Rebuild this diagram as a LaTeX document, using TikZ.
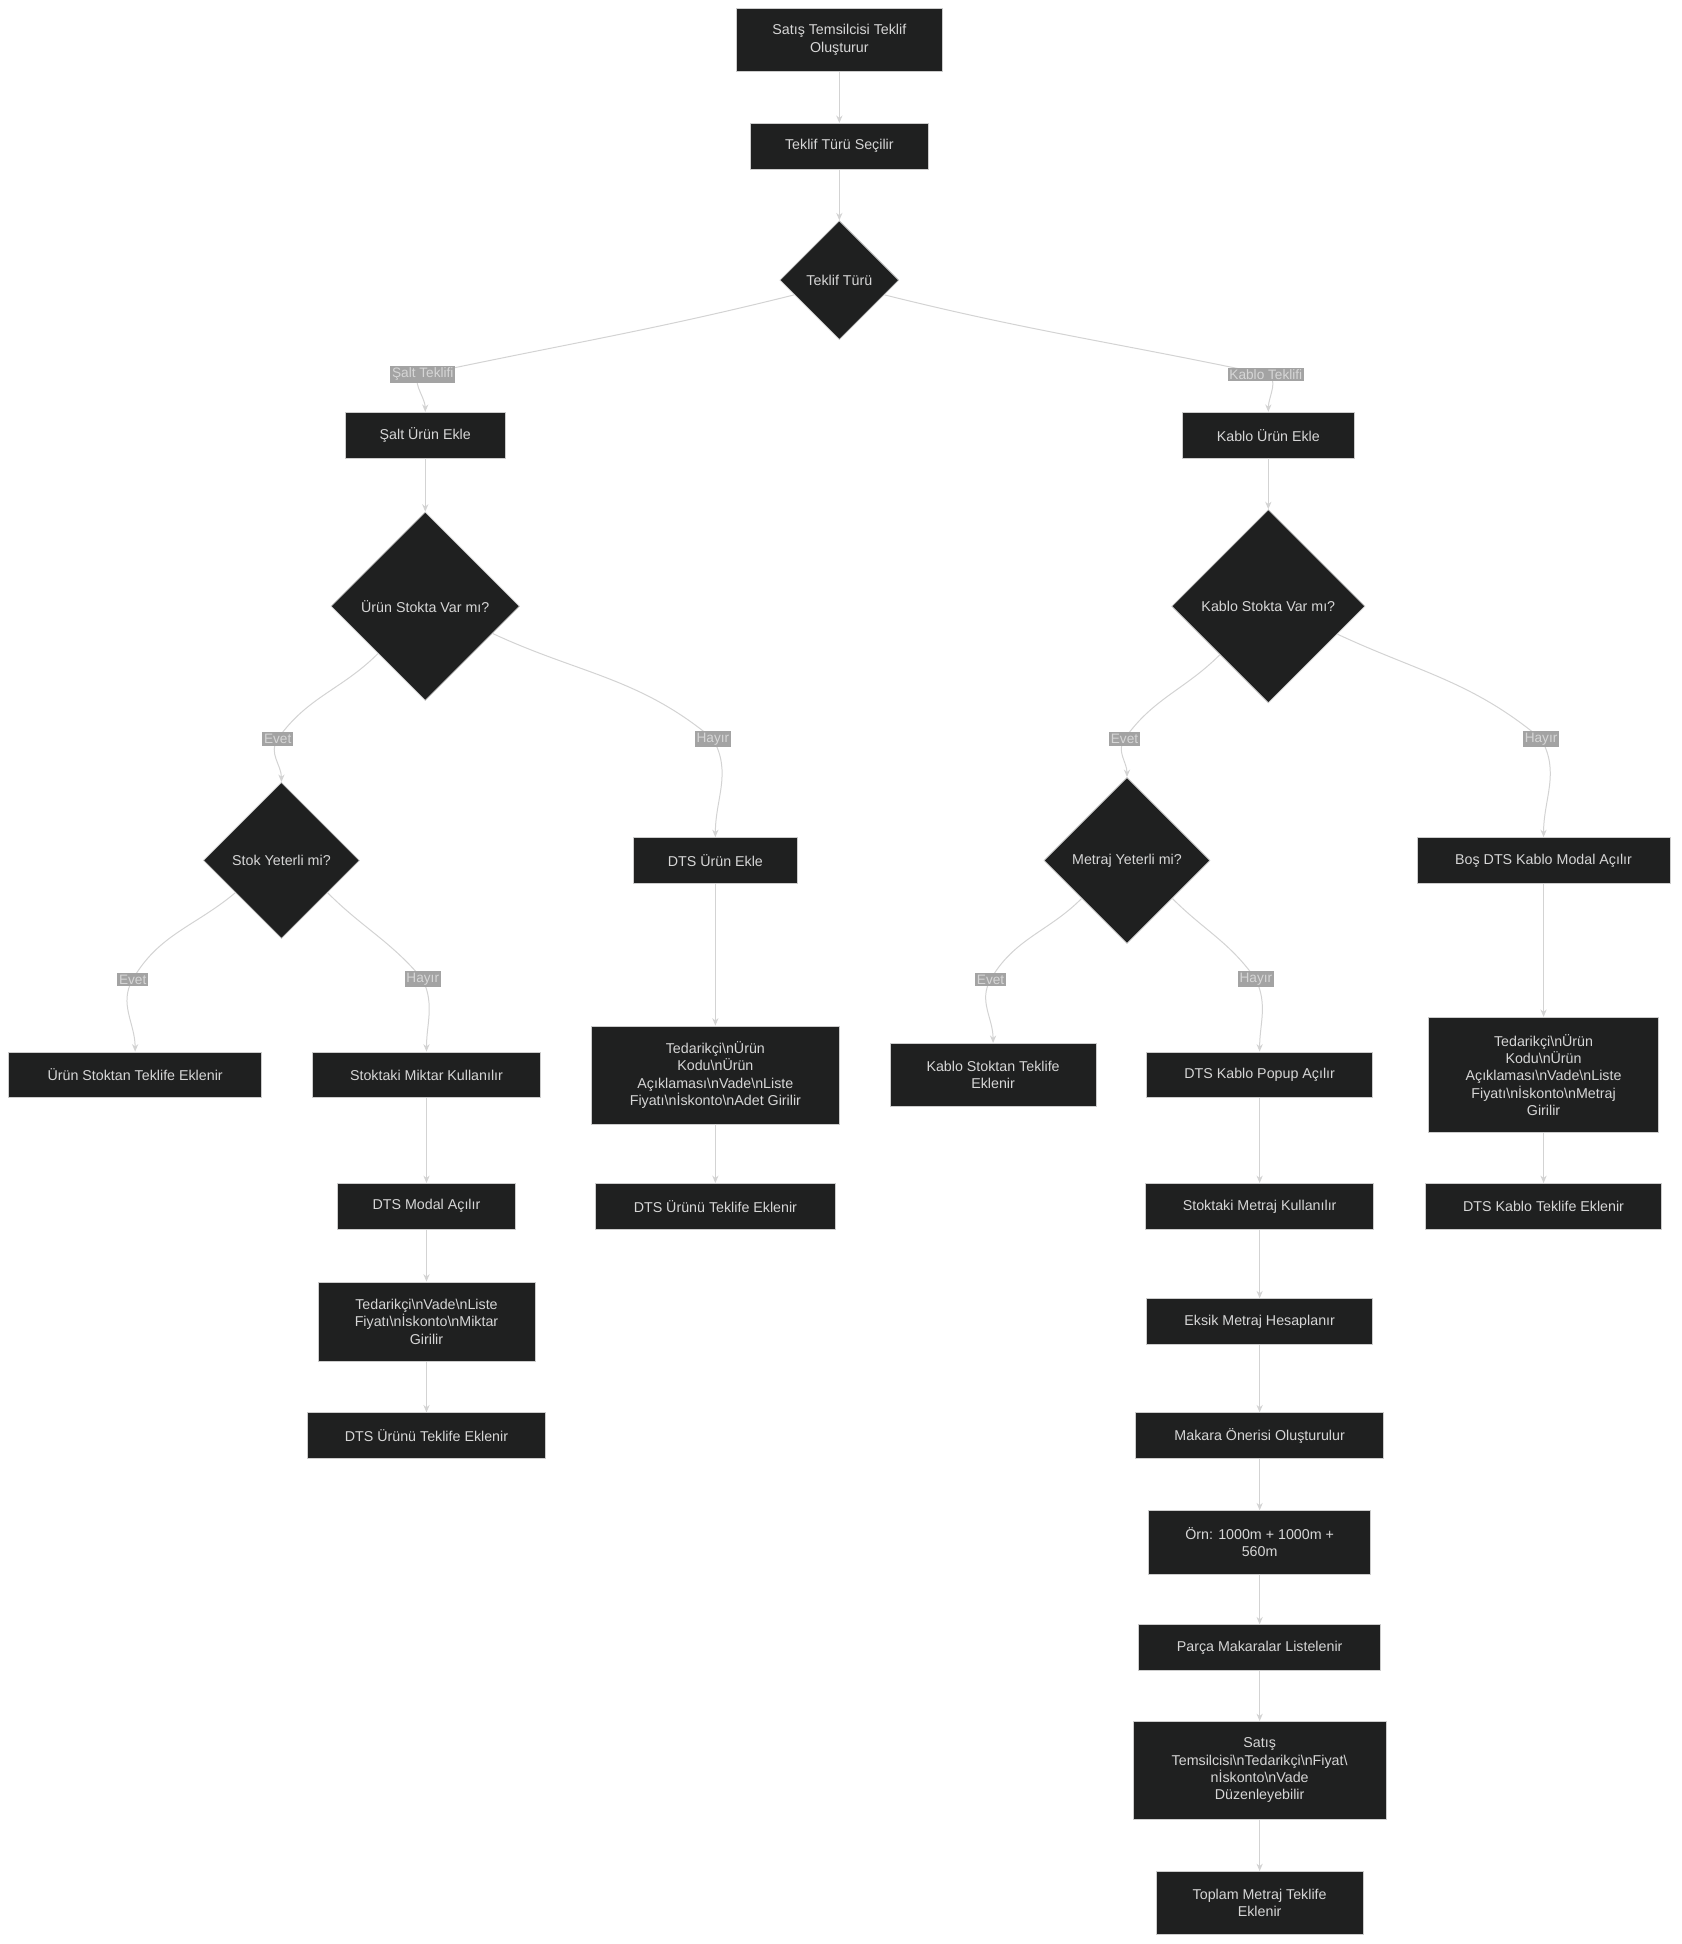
\documentclass[tikz,border=0pt]{standalone}
\usepackage{fontspec}
\setmainfont{Liberation Sans}
\usetikzlibrary{shapes.geometric,arrows.meta}
\definecolor{nfill}{HTML}{1F2020}
\definecolor{nline}{HTML}{CCCCCC}
\definecolor{ntext}{HTML}{D6D6D6}
\definecolor{eline}{HTML}{D3D3D3}
\definecolor{lfill}{HTML}{A3A3A3}
\begin{document}
\begin{tikzpicture}[x=1pt,y=-1pt,
  box/.style={rectangle,draw=nline,line width=0.6pt,fill=nfill,text=ntext,align=center,inner sep=0pt,font=\fontsize{11.5}{14}\selectfont},
  dia/.style={diamond,draw=nline,line width=0.6pt,fill=nfill,text=ntext,align=center,inner sep=0pt,aspect=1,font=\fontsize{11.5}{14}\selectfont},
  lab/.style={rectangle,fill=lfill,text=ntext,inner sep=1.5pt,font=\fontsize{11}{13}\selectfont},
  edge/.style={draw=eline,line width=0.8pt,-{Stealth[length=6pt,width=5pt]}}]
\useasboundingbox (0,0) rectangle (1356,1568);
\fill[white] (0,0) rectangle (1356,1568);
\node[box,minimum width=166,minimum height=51] (A) at (677,32) {Satış Temsilcisi Teklif\\Oluşturur};
\node[box,minimum width=144,minimum height=37] (B) at (677,118) {Teklif Türü Seçilir};
\node[dia,minimum width=96,minimum height=96] (C) at (677,226) {Teklif Türü};
\node[box,minimum width=129,minimum height=37] (D) at (343,351) {Şalt Ürün Ekle};
\node[box,minimum width=139,minimum height=37] (E) at (1023,351) {Kablo Ürün Ekle};
\node[dia,minimum width=152,minimum height=152] (F) at (343,489) {Ürün Stokta Var mı?};
\node[dia,minimum width=156,minimum height=156] (G) at (1023,489) {Kablo Stokta Var mı?};
\node[dia,minimum width=126,minimum height=126] (H) at (227,694) {Stok Yeterli mi?};
\node[box,minimum width=132,minimum height=37] (I) at (577,694) {DTS Ürün Ekle};
\node[dia,minimum width=134,minimum height=134] (J) at (909,694) {Metraj Yeterli mi?};
\node[box,minimum width=204,minimum height=37] (K) at (1245,694) {Boş DTS Kablo Modal Açılır};
\node[box,minimum width=204,minimum height=37] (L) at (109,867) {Ürün Stoktan Teklife Eklenir};
\node[box,minimum width=184,minimum height=37] (M) at (344,867) {Stoktaki Miktar Kullanılır};
\node[box,minimum width=200,minimum height=79] (N) at (577,867) {Tedarikçi\textbackslash nÜrün\\Kodu\textbackslash nÜrün\\Açıklaması\textbackslash nVade\textbackslash nListe\\Fiyatı\textbackslash nİskonto\textbackslash nAdet Girilir};
\node[box,minimum width=166,minimum height=51] (O) at (801,867) {Kablo Stoktan Teklife\\Eklenir};
\node[box,minimum width=182,minimum height=37] (P) at (1016,867) {DTS Kablo Popup Açılır};
\node[box,minimum width=186,minimum height=93] (Q) at (1245,867) {Tedarikçi\textbackslash nÜrün\\Kodu\textbackslash nÜrün\\Açıklaması\textbackslash nVade\textbackslash nListe\\Fiyatı\textbackslash nİskonto\textbackslash nMetraj\\Girilir};
\node[box,minimum width=143,minimum height=37] (R) at (344,973) {DTS Modal Açılır};
\node[box,minimum width=193,minimum height=37] (S) at (577,973) {DTS Ürünü Teklife Eklenir};
\node[box,minimum width=184,minimum height=37] (T) at (1016,973) {Stoktaki Metraj Kullanılır};
\node[box,minimum width=190,minimum height=37] (U) at (1245,973) {DTS Kablo Teklife Eklenir};
\node[box,minimum width=175,minimum height=64] (V) at (344,1066) {Tedarikçi\textbackslash nVade\textbackslash nListe\\Fiyatı\textbackslash nİskonto\textbackslash nMiktar\\Girilir};
\node[box,minimum width=182,minimum height=37] (W) at (1016,1066) {Eksik Metraj Hesaplanır};
\node[box,minimum width=192,minimum height=37] (X) at (344,1158) {DTS Ürünü Teklife Eklenir};
\node[box,minimum width=200,minimum height=37] (Y) at (1016,1158) {Makara Önerisi Oluşturulur};
\node[box,minimum width=179,minimum height=51] (Z) at (1016,1244) {Örn: 1000m + 1000m +\\560m};
\node[box,minimum width=195,minimum height=37] (AA) at (1016,1329) {Parça Makaralar Listelenir};
\node[box,minimum width=204,minimum height=79] (AB) at (1016,1428) {Satış\\Temsilcisi\textbackslash nTedarikçi\textbackslash nFiyat\textbackslash\\nİskonto\textbackslash nVade\\Düzenleyebilir};
\node[box,minimum width=167,minimum height=51] (AC) at (1016,1535) {Toplam Metraj Teklife\\Eklenir};
% label positions
\coordinate (c1) at (341,302);
\coordinate (c2) at (1021,302);
\coordinate (c3) at (224,596);
\coordinate (c4) at (575,596);
\coordinate (c5) at (907,596);
\coordinate (c6) at (1243,596);
\coordinate (c7) at (107,790);
\coordinate (c8) at (341,790);
\coordinate (c9) at (799,790);
\coordinate (c10) at (1013,790);
% edges
\foreach \a/\b in {A/B,B/C,D/F,E/G,I/N,N/S,M/R,R/V,V/X,K/Q,Q/U,P/T,T/W,W/Y,Y/Z,Z/AA,AA/AB,AB/AC}
  \draw[edge] (\a) -- (\b);
\draw[edge] (C.198) to[out=-166,in=12] (c1) to[out=-168,in=90] (D.north);
\draw[edge] (C.-18) to[out=-14,in=168] (c2) to[out=-12,in=90] (E.north);
\draw[edge] (F.225) to[out=-135,in=55] (c3) to[out=-125,in=90] (H.north);
\draw[edge] (F.-22) to[out=-25,in=140] (c4) to[out=-60,in=90] (I.north);
\draw[edge] (G.225) to[out=-135,in=55] (c5) to[out=-125,in=90] (J.north);
\draw[edge] (G.-22) to[out=-25,in=140] (c6) to[out=-60,in=90] (K.north);
\draw[edge] (H.215) to[out=-140,in=60] (c7) to[out=-120,in=90] (L.north);
\draw[edge] (H.-35) to[out=-45,in=130] (c8) to[out=-65,in=90] (M.north);
\draw[edge] (J.220) to[out=-135,in=60] (c9) to[out=-120,in=90] (O.north);
\draw[edge] (J.-40) to[out=-45,in=125] (c10) to[out=-65,in=90] (P.north);
% labels
\node[lab] (l1) at (c1) {Şalt Teklifi};
\node[lab] (l2) at (c2) {Kablo Teklifi};
\node[lab] (l3) at (c3) {Evet};
\node[lab] (l4) at (c4) {Hayır};
\node[lab] (l5) at (c5) {Evet};
\node[lab] (l6) at (c6) {Hayır};
\node[lab] (l7) at (c7) {Evet};
\node[lab] (l8) at (c8) {Hayır};
\node[lab] (l9) at (c9) {Evet};
\node[lab] (l10) at (c10) {Hayır};
\end{tikzpicture}
\end{document}
